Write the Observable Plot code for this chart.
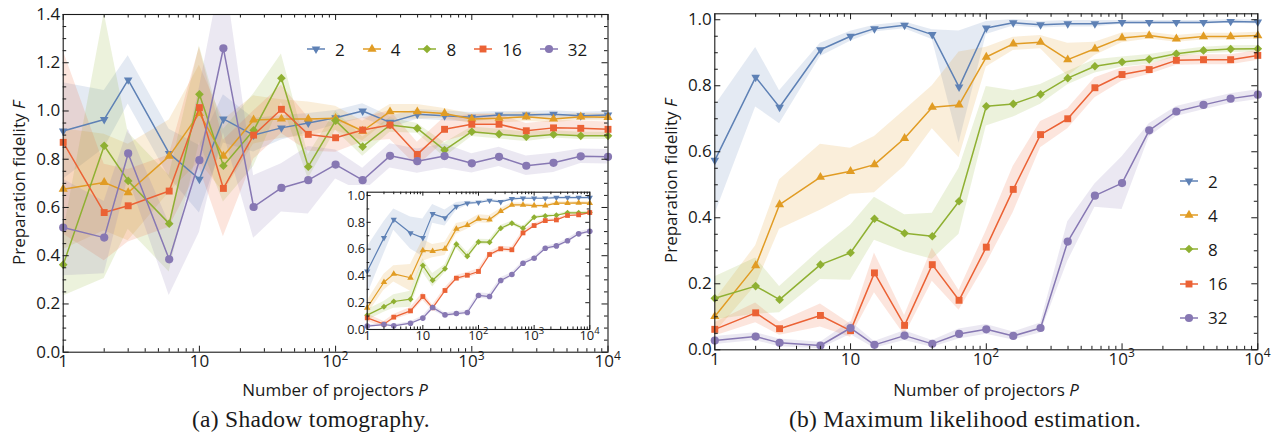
<!DOCTYPE html>
<html><head><meta charset="utf-8">
<script src="https://cdn.jsdelivr.net/npm/d3@7"></script>
<script src="https://cdn.jsdelivr.net/npm/@observablehq/plot@0.6"></script>
<style>
body{margin:0;background:#fff;}
#root{position:relative;width:1278px;height:437px;overflow:hidden;font-family:"Open Sans",sans-serif;color:#1a1a1a;background:#fff}
#root > svg{position:absolute;}
.t{position:absolute;white-space:nowrap;transform:translate(-50%,-50%);line-height:1}
.xt{font-size:17px}
.yt{font-size:17px;transform:translate(-50%,-50%) rotate(-90deg)}
#root .cap{font-family:"Liberation Serif",serif;font-size:23.5px;letter-spacing:0.3px}
.leg{position:absolute;display:flex;align-items:center;font-size:17px;line-height:1}
.leg .e{display:flex;align-items:center}
#root .leg svg{position:static;display:block}
</style></head><body><div id="root"></div>
<script>
// ---------------- data ----------------
const P = [1,2,3,6,10,15,25,40,63,100,158,251,398,631,1000,1585,2512,3981,6310,10000];
const groups = ["2","4","8","16","32"];
const palette = ["#5E81B5","#E19C24","#8FB032","#EB6235","#8778B3"];

// (a) Shadow tomography: mean fidelity per group (rows = 2,4,8,16,32)
const shadowF = [
  [0.917,0.965,1.129,0.824,0.717,0.967,0.900,0.930,0.950,0.972,1.000,0.953,0.986,0.980,0.974,0.983,0.983,0.986,0.980,0.983],
  [0.676,0.704,0.662,0.813,0.990,0.813,0.963,0.967,0.967,0.970,0.917,0.997,0.997,0.990,0.967,0.970,0.976,0.967,0.976,0.974],
  [0.363,0.856,0.710,0.533,1.069,0.773,0.920,1.136,0.769,0.960,0.852,0.942,0.928,0.838,0.914,0.904,0.893,0.903,0.897,0.897],
  [0.870,0.579,0.607,0.668,1.014,0.679,0.900,1.007,0.903,0.889,0.921,0.942,0.820,0.924,0.945,0.945,0.918,0.930,0.928,0.924],
  [0.517,0.475,0.824,0.385,0.796,1.260,0.602,0.681,0.713,0.778,0.713,0.814,0.792,0.813,0.783,0.810,0.773,0.785,0.812,0.810]
];
const shadowErr = [
  [0.20,0.12,0.10,0.10,0.14,0.10,0.07,0.05,0.04,0.03,0.03,0.025,0.02,0.02,0.02,0.015,0.015,0.015,0.015,0.015],
  [0.25,0.20,0.20,0.15,0.20,0.15,0.10,0.08,0.07,0.05,0.04,0.03,0.03,0.02,0.02,0.02,0.02,0.015,0.015,0.015],
  [0.13,0.55,0.20,0.20,0.20,0.15,0.15,0.10,0.05,0.04,0.04,0.03,0.02,0.03,0.02,0.02,0.02,0.015,0.015,0.015],
  [0.38,0.20,0.15,0.15,0.25,0.20,0.10,0.10,0.07,0.06,0.05,0.06,0.05,0.05,0.04,0.04,0.03,0.03,0.03,0.03],
  [0.20,0.15,0.10,0.15,0.30,0.35,0.13,0.10,0.14,0.06,0.05,0.05,0.05,0.05,0.04,0.04,0.04,0.04,0.03,0.03]
];

// (b) Maximum likelihood estimation
const mleF = [
  [0.574,0.826,0.735,0.909,0.950,0.973,0.983,0.955,0.796,0.975,0.991,0.985,0.988,0.988,0.992,0.992,0.992,0.992,0.995,0.993],
  [0.101,0.255,0.440,0.523,0.541,0.561,0.641,0.735,0.742,0.887,0.927,0.932,0.879,0.912,0.945,0.952,0.942,0.949,0.949,0.952],
  [0.156,0.193,0.152,0.258,0.294,0.397,0.353,0.344,0.450,0.738,0.745,0.774,0.823,0.859,0.872,0.880,0.897,0.907,0.911,0.912],
  [0.062,0.112,0.064,0.104,0.058,0.233,0.074,0.258,0.150,0.311,0.486,0.652,0.700,0.794,0.834,0.849,0.877,0.879,0.879,0.892],
  [0.028,0.040,0.021,0.013,0.066,0.015,0.043,0.018,0.048,0.062,0.042,0.066,0.328,0.467,0.505,0.665,0.722,0.742,0.761,0.773]
];
const mleErr = [
  [0.165,0.09,0.05,0.02,0.015,0.01,0.01,0.015,0.17,0.02,0.01,0.01,0.01,0.01,0.006,0.006,0.006,0.006,0.006,0.006],
  [0.05,0.06,0.075,0.10,0.07,0.085,0.085,0.065,0.16,0.03,0.02,0.02,0.05,0.02,0.015,0.01,0.01,0.01,0.01,0.01],
  [0.065,0.085,0.04,0.045,0.083,0.065,0.056,0.07,0.10,0.06,0.04,0.03,0.02,0.02,0.015,0.015,0.01,0.01,0.01,0.01],
  [0.02,0.03,0.02,0.035,0.02,0.06,0.03,0.05,0.03,0.05,0.07,0.04,0.03,0.03,0.02,0.015,0.015,0.015,0.015,0.015],
  [0.012,0.012,0.012,0.01,0.02,0.01,0.015,0.01,0.015,0.015,0.012,0.015,0.06,0.035,0.08,0.02,0.015,0.015,0.015,0.015]
];

// inset of (a)
const insetF = [
  [0.435,0.684,0.820,0.720,0.684,0.863,0.833,0.918,0.943,0.948,0.963,0.953,0.975,0.980,0.980,0.980,0.985,0.985,0.985,0.985],
  [0.162,0.353,0.415,0.386,0.590,0.585,0.602,0.751,0.779,0.826,0.821,0.883,0.930,0.930,0.925,0.925,0.943,0.943,0.945,0.943],
  [0.107,0.169,0.209,0.226,0.478,0.368,0.453,0.637,0.547,0.654,0.652,0.756,0.794,0.756,0.838,0.848,0.853,0.871,0.871,0.873],
  [0.087,0.040,0.092,0.139,0.246,0.162,0.291,0.383,0.405,0.433,0.560,0.602,0.595,0.721,0.776,0.813,0.818,0.851,0.856,0.873],
  [0.025,0.037,0.027,0.047,0.085,0.164,0.109,0.119,0.127,0.254,0.246,0.366,0.410,0.495,0.532,0.607,0.624,0.662,0.714,0.734]
];
const insetErr = [
  [0.18,0.12,0.08,0.12,0.14,0.07,0.06,0.03,0.015,0.01,0.01,0.01,0.01,0.01,0.008,0.008,0.008,0.008,0.008,0.008],
  [0.05,0.06,0.06,0.10,0.08,0.05,0.05,0.04,0.03,0.03,0.03,0.02,0.015,0.015,0.01,0.01,0.01,0.01,0.01,0.01],
  [0.04,0.04,0.05,0.06,0.05,0.05,0.03,0.03,0.03,0.02,0.02,0.02,0.015,0.015,0.01,0.01,0.01,0.01,0.01,0.01],
  [0.03,0.02,0.02,0.025,0.03,0.02,0.02,0.02,0.02,0.02,0.02,0.02,0.02,0.02,0.015,0.01,0.01,0.01,0.01,0.01],
  [0.01,0.01,0.01,0.01,0.015,0.02,0.015,0.015,0.015,0.02,0.02,0.02,0.015,0.015,0.015,0.015,0.015,0.015,0.015,0.015]
];

// axes
const xMajor = [1,10,100,1000,10000];
const xPlainLabels = [[1,"1"],[10,"10"]];
const xPowLabels = [[100,"2"],[1000,"3"],[10000,"4"]];
const yTicksShadow = [0,0.2,0.4,0.6,0.8,1.0,1.2,1.4];
const yTicksMle = [0,0.2,0.4,0.6,0.8,1.0];

// ---------------- drawing ----------------
const triangleDown = {draw(ctx, size){const y=Math.sqrt(size/(Math.sqrt(3)*3));ctx.moveTo(0,2*y);ctx.lineTo(-Math.sqrt(3)*y,-y);ctx.lineTo(Math.sqrt(3)*y,-y);ctx.closePath();}};
const symbols = [triangleDown, d3.symbolTriangle, d3.symbolDiamond2, d3.symbolSquare, d3.symbolCircle];
const INK = "#1a1a1a";

function rows(means, errs, i){
  return P.map((p,j)=>({P:p, F:means[i][j], lo:means[i][j]-errs[i][j], hi:means[i][j]+errs[i][j]}));
}

function chart(o){
  const pw=o.width-o.ml-o.mr, ph=o.height-o.mt-o.mb;
  const xMinor=[]; [1,10,100,1000].forEach(d=>{for(let k=2;k<=9;k++) xMinor.push(d*k);});
  const yMinor=d3.range(o.yDomain[0], o.yDomain[1]+1e-9, o.yMinorStep).filter(v=>!o.yMajor.some(m=>Math.abs(m-v)<1e-6));
  const marks=[];
  groups.forEach((g,i)=>marks.push(Plot.areaY(rows(o.means,o.errs,i),{x:"P",y1:"lo",y2:"hi",fill:palette[i],fillOpacity:o.bandOpacity,clip:true})));
  groups.forEach((g,i)=>{
    const r=rows(o.means,o.errs,i);
    marks.push(Plot.line(r,{x:"P",y:"F",stroke:palette[i],strokeWidth:o.sw,clip:true}));
    marks.push(Plot.dot(r,{x:"P",y:"F",symbol:symbols[i],r:o.r[i],fill:palette[i],stroke:"none"}));
  });
  marks.push(Plot.frame({stroke:INK,strokeWidth:1.1}));
  const tk={stroke:INK,strokeWidth:1};
  marks.push(
    Plot.tickX(xMajor,{x:d=>d,...tk,insetTop:ph-o.tl}),
    Plot.tickX(xMajor,{x:d=>d,...tk,insetBottom:ph-o.tl}),
    Plot.tickX(xMinor,{x:d=>d,...tk,insetTop:ph-o.ml2}),
    Plot.tickX(xMinor,{x:d=>d,...tk,insetBottom:ph-o.ml2}),
    Plot.tickY(o.yMajor,{y:d=>d,...tk,insetRight:pw-o.tl}),
    Plot.tickY(o.yMajor,{y:d=>d,...tk,insetLeft:pw-o.tl}),
    Plot.tickY(yMinor,{y:d=>d,...tk,insetRight:pw-o.ml2}),
    Plot.tickY(yMinor,{y:d=>d,...tk,insetLeft:pw-o.ml2}),
    Plot.text(o.yMajor,{y:d=>d,text:d=>d3.format(".1f")(d),frameAnchor:"left",textAnchor:"end",dx:-o.ypad,fontSize:o.fs}),
    Plot.text(xPlainLabels,{x:d=>d[0],text:d=>d[1],frameAnchor:"bottom",lineAnchor:"top",dy:o.xdy,fontSize:o.fs}),
    Plot.text(xPowLabels,{x:d=>d[0],text:()=>"10",frameAnchor:"bottom",lineAnchor:"top",textAnchor:"end",dx:o.expShift,dy:o.xdy,fontSize:o.fs}),
    Plot.text(xPowLabels,{x:d=>d[0],text:d=>d[1],frameAnchor:"bottom",lineAnchor:"top",textAnchor:"start",dx:o.expShift,dy:o.xdy-o.expRaise,fontSize:o.efs})
  );
  const svg=Plot.plot({
    width:o.width,height:o.height,marginTop:o.mt,marginRight:o.mr,marginBottom:o.mb,marginLeft:o.ml,
    x:{type:"log",domain:[1,1e4],axis:null},
    y:{domain:o.yDomain,axis:null},
    style:{background:o.bg,fontFamily:'"Open Sans",sans-serif',color:INK,overflow:"visible"},
    marks
  });
  svg.style.position="absolute"; svg.style.left=o.left+"px"; svg.style.top=o.top+"px";
  return svg;
}

const root=document.getElementById("root");
const mainR=[3.2,3.4,3.9,3.9,4.1];
root.appendChild(chart({left:0,top:0,width:640,height:400,mt:14,mr:32.5,mb:48.3,ml:62.7,yDomain:[0,1.4],yMajor:yTicksShadow,yMinorStep:0.05,
  means:shadowF,errs:shadowErr,r:mainR,sw:1.5,fs:17,efs:12,xdy:3,expShift:6,expRaise:4,ypad:3,tl:6,ml2:3.5,bg:"transparent",bandOpacity:0.17}));
root.appendChild(chart({left:650,top:0,width:628,height:400,mt:13.3,mr:20.7,mb:50.7,ml:64.3,yDomain:[0,1.018],yMajor:yTicksMle,yMinorStep:0.05,
  means:mleF,errs:mleErr,r:mainR,sw:1.5,fs:17,efs:12,xdy:3,expShift:6,expRaise:4,ypad:3,tl:6,ml2:3.5,bg:"transparent",bandOpacity:0.17}));
root.appendChild(chart({left:336,top:185,width:263.3,height:161,mt:6.7,mr:10,mb:17,ml:30.7,yDomain:[0,1.025],yMajor:yTicksMle,yMinorStep:0.1,
  means:insetF,errs:insetErr,r:[2.3,2.4,2.7,2.7,2.8],sw:1.2,fs:13,efs:9.5,xdy:1,expShift:4.5,expRaise:3,ypad:2,tl:4,ml2:2.5,bg:"#fff",bandOpacity:0.17}));

// legends
function legendEntry(i, label, gap){
  const e=document.createElement("div"); e.className="e"; e.style.marginRight=gap+"px";
  const s=d3.create("svg").attr("width",18).attr("height",14).style("margin-right","10px");
  s.append("line").attr("x1",0).attr("x2",18).attr("y1",7).attr("y2",7).attr("stroke",palette[i]).attr("stroke-width",1.5);
  s.append("path").attr("transform","translate(9,7)").attr("fill",palette[i]).attr("d",d3.symbol(symbols[i],Math.PI*mainR[i]*mainR[i])());
  e.appendChild(s.node());
  const t=document.createElement("span"); t.textContent=label; e.appendChild(t);
  return e;
}
const legA=document.createElement("div"); legA.className="leg"; legA.style.left="307px"; legA.style.top="40px"; legA.style.height="18px";
groups.forEach((g,i)=>legA.appendChild(legendEntry(i,g,18)));
root.appendChild(legA);
const legB=document.createElement("div"); legB.className="leg"; legB.style.left="1180px"; legB.style.top="164px"; legB.style.flexDirection="column"; legB.style.alignItems="flex-start";
groups.forEach((g,i)=>{const e=legendEntry(i,g,0); e.style.height="34.2px"; legB.appendChild(e);});
root.appendChild(legB);

// titles and captions
function txt(cls,x,y,html){const d=document.createElement("div");d.className="t "+cls;d.style.left=x+"px";d.style.top=y+"px";d.innerHTML=html;root.appendChild(d);}
txt("xt",335,389,"Number of projectors <i>P</i>");
txt("xt",986,389,"Number of projectors <i>P</i>");
txt("yt",18,183,"Preparation fidelity <i>F</i>");
txt("yt",670,181,"Preparation fidelity <i>F</i>");
txt("cap",311,420,"(a) Shadow tomography.");
txt("cap",965,420,"(b) Maximum likelihood estimation.");
</script></body></html>
